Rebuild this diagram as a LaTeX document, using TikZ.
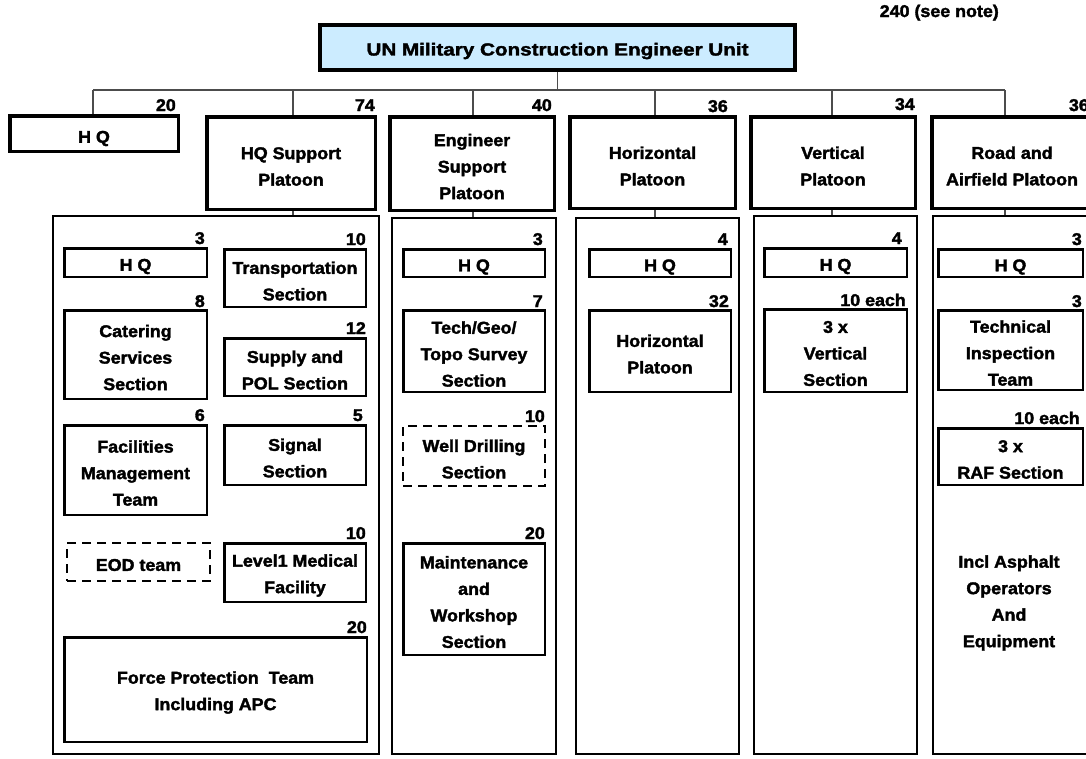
\documentclass[tikz,border=0pt]{standalone}
\usepackage{fontspec}
\newfontfamily\bodyfont[FakeStretch=1.05,FakeBold=2]{Liberation Sans}
\newfontfamily\titlefont[FakeStretch=1.18,FakeBold=2]{Liberation Sans}
\usetikzlibrary{calc}
\definecolor{titleblue}{RGB}{204,236,255}
\begin{document}
\begin{tikzpicture}[x=1pt,y=-1pt,
  txt/.style={font=\bodyfont\bfseries\fontsize{17}{26.5}\selectfont, align=center, inner sep=0pt},
  l1box/.style={draw=black, line width=3.5pt, fill=white},
  cont/.style={draw=black, line width=2pt},
  ibox/.style={draw=black, line width=2.5pt},
  dbox/.style={draw=black, line width=2pt, dash pattern=on 9pt off 6pt},
  num/.style={font=\bodyfont\bfseries\fontsize{17}{20}\selectfont, inner sep=0pt, anchor=base east},
  conn/.style={draw=black!70, line width=1.2pt}]
\useasboundingbox[fill=white] (0,0) rectangle (1086,758);

% bus coordinates
\coordinate (d1) at (93,90);
\coordinate (d2) at (293,90);
\coordinate (d3) at (473,90);
\coordinate (d4) at (655,90);
\coordinate (d5) at (832,90);
\coordinate (d6) at (1005,90);

% top
\node[l1box, fill=titleblue, line width=4pt, minimum width=475pt, minimum height=45pt] (top) at (557.5,47.5) {};
\node[font=\titlefont\bfseries\fontsize{17.5}{20}\selectfont, inner sep=0pt] (toptxt) at (557.5,51) {UN Military Construction Engineer Unit};
\node[num] (ntop) at (999,17) {240 (see note)};

\draw[conn] (top.south) -- (top.south |- d1);
\draw[conn] (d1) -- (d6);

% level 1 boxes
\node[l1box, minimum width=168.5pt, minimum height=35.5pt] (hq1) at (94,133.5) {};
\node[txt] (hq1t) at (94,138.5) {H Q};
\node[l1box, minimum width=168.5pt, minimum height=92.5pt] (hqs) at (291,163) {};
\node[txt] (hqst) at (291,166.5) {HQ Support\\Platoon};
\node[l1box, minimum width=164.5pt, minimum height=93.5pt] (esp) at (472,163.5) {};
\node[txt] (espt) at (472,166.5) {Engineer\\Support\\Platoon};
\node[l1box, minimum width=165.5pt, minimum height=91.5pt] (hor) at (652.5,162.5) {};
\node[txt] (hort) at (652.5,166) {Horizontal\\Platoon};
\node[l1box, minimum width=164.5pt, minimum height=91.5pt] (ver) at (833,162.5) {};
\node[txt] (vert) at (833,166) {Vertical\\Platoon};
\node[l1box, minimum width=160pt, minimum height=91.5pt] (raf) at (1012,162.5) {};
\node[txt] (raft) at (1012,166) {Road and\\Airfield Platoon};

\draw[conn] (d1) -- (d1 |- hq1.north);
\draw[conn] (d2) -- (d2 |- hqs.north);
\draw[conn] (d3) -- (d3 |- esp.north);
\draw[conn] (d4) -- (d4 |- hor.north);
\draw[conn] (d5) -- (d5 |- ver.north);
\draw[conn] (d6) -- (d6 |- raf.north);

\node[num] (n20) at (176,111) {20};
\node[num] (n74) at (375,111) {74};
\node[num] (n40) at (552,111) {40};
\node[num] (n36a) at (728,112) {36};
\node[num] (n34) at (915,110) {34};
\node[num] (n36b) at (1089,111) {36};

% containers
\node[cont, minimum width=326pt, minimum height=538pt] (c1) at (216,485) {};
\node[cont, minimum width=164pt, minimum height=536pt] (c2) at (474,486) {};
\node[cont, minimum width=163pt, minimum height=536pt] (c3) at (657.5,486) {};
\node[cont, minimum width=163pt, minimum height=538pt] (c4) at (835.5,485) {};
\node[cont, minimum width=162pt, minimum height=538pt] (c5) at (1014,485) {};

\draw[conn] (hqs.south -| d2) -- (d2 |- c1.north);
\draw[conn] (esp.south -| d3) -- (d3 |- c2.north);
\draw[conn] (hor.south -| d4) -- (d4 |- c3.north);
\draw[conn] (ver.south -| d5) -- (d5 |- c4.north);
\draw[conn] (raf.south -| d6) -- (d6 |- c5.north);

% column 1
\node[ibox, minimum width=142.5pt, minimum height=28.5pt] (a1) at (135.5,262.5) {};
\node[txt] (a1t) at (135.5,266.5) {H Q};
\node[ibox, minimum width=141.5pt, minimum height=57.5pt] (a2) at (295,278) {};
\node[txt] (a2t) at (295,281) {Transportation\\Section};
\node[ibox, minimum width=142.5pt, minimum height=88.5pt] (a3) at (135.5,354.5) {};
\node[txt] (a3t) at (135.5,357.5) {Catering\\Services\\Section};
\node[ibox, minimum width=141.5pt, minimum height=57.5pt] (a4) at (295,367) {};
\node[txt] (a4t) at (295,370) {Supply and\\POL Section};
\node[ibox, minimum width=142.5pt, minimum height=89.5pt] (a5) at (135.5,470) {};
\node[txt] (a5t) at (135.5,473) {Facilities\\Management\\Team};
\node[ibox, minimum width=141.5pt, minimum height=59.5pt] (a6) at (295,455) {};
\node[txt] (a6t) at (295,458) {Signal\\Section};
\node[dbox, minimum width=143pt, minimum height=38pt] (a7) at (138.5,562) {};
\node[txt] (a7t) at (138.5,565) {EOD team};
\node[ibox, minimum width=141.5pt, minimum height=58.5pt] (a8) at (295,572.5) {};
\node[txt] (a8t) at (295,575.5) {Level1 Medical\\Facility};
\node[ibox, minimum width=302.5pt, minimum height=104.5pt] (a9) at (215.5,689.5) {};
\node[txt] (a9t) at (215.5,692.5) {Force Protection\ \ Team\\Including APC};

\node[num] (a1n) at ($(a1.north east)+(-3,-3)$) {3};
\node[num] (a2n) at ($(a2.north east)+(-1,-3)$) {10};
\node[num] (a3n) at ($(a3.north east)+(-3,-2)$) {8};
\node[num] (a4n) at ($(a4.north east)+(-1,-3)$) {12};
\node[num] (a5n) at ($(a5.north east)+(-3,-3)$) {6};
\node[num] (a6n) at ($(a6.north east)+(-4,-3)$) {5};
\node[num] (a8n) at ($(a8.north east)+(-1,-3)$) {10};
\node[num] (a9n) at ($(a9.north east)+(-1,-3)$) {20};

% column 2
\node[ibox, minimum width=141.5pt, minimum height=27.5pt] (b1) at (474,263) {};
\node[txt] (b1t) at (474,267) {H Q};
\node[ibox, minimum width=141.5pt, minimum height=81.5pt] (b2) at (474,351) {};
\node[txt] (b2t) at (474,354) {Tech/Geo/\\Topo Survey\\Section};
\node[dbox, minimum width=142pt, minimum height=60pt] (b3) at (474,456) {};
\node[txt] (b3t) at (474,459) {Well Drilling\\Section};
\node[ibox, minimum width=141.5pt, minimum height=111.5pt] (b4) at (474,599) {};
\node[txt] (b4t) at (474,602) {Maintenance\\and\\Workshop\\Section};

\node[num] (b1n) at ($(b1.north east)+(-3,-3)$) {3};
\node[num] (b2n) at ($(b2.north east)+(-3,-2)$) {7};
\node[num] (b3n) at ($(b3.north east)+(-1,-3)$) {10};
\node[num] (b4n) at ($(b4.north east)+(-1,-3)$) {20};

% column 3
\node[ibox, minimum width=141.5pt, minimum height=27.5pt] (e1) at (660,263) {};
\node[txt] (e1t) at (660,267) {H Q};
\node[ibox, minimum width=141.5pt, minimum height=81.5pt] (e2) at (660,351) {};
\node[txt] (e2t) at (660,354) {Horizontal\\Platoon};
\node[num] (e1n) at ($(e1.north east)+(-4,-3)$) {4};
\node[num] (e2n) at ($(e2.north east)+(-3,-2)$) {32};

% column 4
\node[ibox, minimum width=142.5pt, minimum height=28.5pt] (f1) at (835.5,262.5) {};
\node[txt] (f1t) at (835.5,266.5) {H Q};
\node[ibox, minimum width=142.5pt, minimum height=82.5pt] (f2) at (835.5,350.5) {};
\node[txt] (f2t) at (835.5,353.5) {3 x\\Vertical\\Section};
\node[num] (f1n) at ($(f1.north east)+(-6,-3)$) {4};
\node[num] (f2n) at ($(f2.north east)+(-2,-2)$) {10 each};

% column 5
\node[ibox, minimum width=144.5pt, minimum height=27.5pt] (g1) at (1010.5,263) {};
\node[txt] (g1t) at (1010.5,267) {H Q};
\node[ibox, minimum width=144.5pt, minimum height=79.5pt] (g2) at (1010.5,350) {};
\node[txt] (g2t) at (1010.5,353) {Technical\\Inspection\\Team};
\node[ibox, minimum width=144.5pt, minimum height=56.5pt] (g3) at (1010.5,456.5) {};
\node[txt] (g3t) at (1010.5,459.5) {3 x\\RAF Section};
\node[num] (g1n) at ($(g1.north east)+(-2,-3)$) {3};
\node[num] (g2n) at ($(g2.north east)+(-2,-2)$) {3};
\node[num] (g3n) at ($(g3.north east)+(-4,-3)$) {10 each};
\node[txt] (g4) at (1009,603) {Incl Asphalt\\Operators\\And\\Equipment};
\end{tikzpicture}
\end{document}
